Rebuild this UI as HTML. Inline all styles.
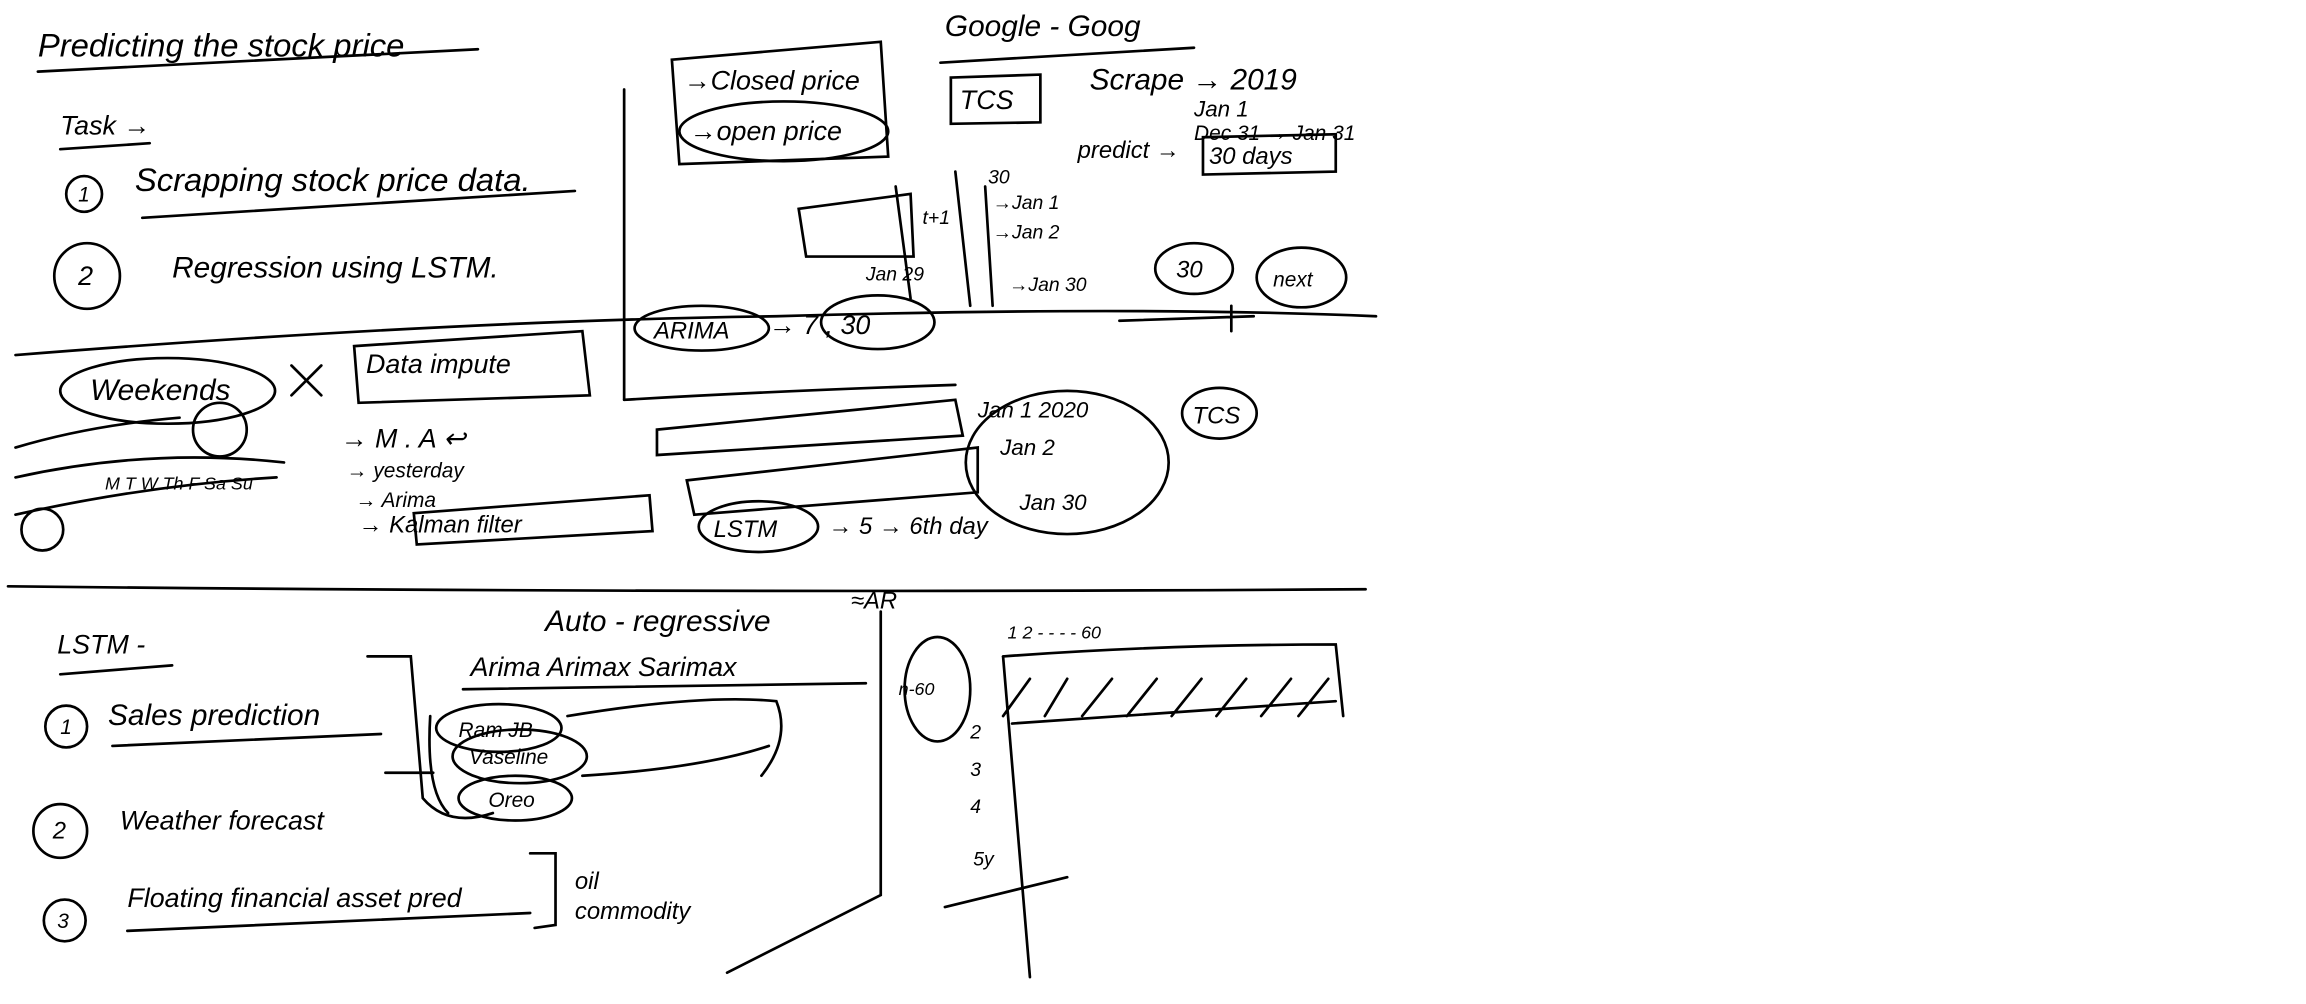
<!DOCTYPE html>
<html><head><meta charset="utf-8"><style>
html,body{margin:0;padding:0;background:#fff;}
svg{display:block;}
text{font-family:"Liberation Sans",sans-serif;font-style:italic;fill:#000;}
</style></head><body>
<svg width="2306" height="1004" viewBox="0 0 1545 673" xmlns="http://www.w3.org/2000/svg">
<g fill="none" stroke="#000" stroke-width="1.8" stroke-linecap="round">
<path d="M10 238 Q300 215 520 212 Q760 205 922 212"/>
<path d="M418 60 L418 268"/>
<path d="M418 268 Q520 262 640 258"/>
<path d="M5 393 Q450 398 915 395"/>
<path d="M590 410 L590 600 L487 652"/>
<path d="M25 48 L320 33"/>
<path d="M40 100 L100 96"/>
<path d="M95 146 L385 128"/>
<path d="M630 42 L800 32"/>
<path d="M40 452 L115 446"/>
<path d="M75 500 L255 492"/>
<path d="M85 624 L355 612"/>
<path d="M310 462 L580 458"/>
<path d="M450 40 L590 28 L595 105 L455 110 Z"/>
<path d="M637 52 L697 50 L697 82 L637 83 Z"/>
<path d="M806 92 L895 90 L895 115 L806 117 Z"/>
<path d="M237 232 L390 222 L395 265 L240 270 Z"/>
<path d="M277 344 L435 332 L437 356 L279 365 Z"/>
<path d="M355 572 L372 572 L372 620 L358 622"/>
<ellipse cx="525" cy="88" rx="70" ry="20"/>
<ellipse cx="470" cy="220" rx="45" ry="15"/>
<ellipse cx="588" cy="216" rx="38" ry="18"/>
<ellipse cx="800" cy="180" rx="26" ry="17"/>
<ellipse cx="872" cy="186" rx="30" ry="20"/>
<ellipse cx="112" cy="262" rx="72" ry="22"/>
<ellipse cx="817" cy="277" rx="25" ry="17"/>
<ellipse cx="715" cy="310" rx="68" ry="48"/>
<ellipse cx="508" cy="353" rx="40" ry="17"/>
<ellipse cx="628" cy="462" rx="22" ry="35"/>
<ellipse cx="334" cy="488" rx="42" ry="16"/>
<ellipse cx="348" cy="507" rx="45" ry="18"/>
<ellipse cx="345" cy="535" rx="38" ry="15"/>
<circle cx="56" cy="130" r="12"/>
<circle cx="58" cy="185" r="22"/>
<circle cx="44" cy="487" r="14"/>
<circle cx="40" cy="557" r="18"/>
<circle cx="43" cy="617" r="14"/>
<circle cx="28" cy="355" r="14"/>
<circle cx="147" cy="288" r="18"/>
<path d="M535 140 L610 130 L612 172 L540 172 Z"/>
<path d="M600 125 L610 200 M640 115 L650 205 M660 125 L665 205"/>
<path d="M440 288 L640 268 L645 292 L440 305 Z"/>
<path d="M460 322 L655 300 L655 330 L465 345 Z"/>
<path d="M10 300 Q60 285 120 280 M10 320 Q100 300 190 310 M10 345 Q100 325 185 320"/>
<path d="M672 440 Q780 432 895 432 L900 480 M678 485 L895 470 M690 455 L672 480 M715 455 L700 480 M745 455 L725 480 M775 455 L755 480 M805 455 L785 480 M835 455 L815 480 M865 455 L845 480 M890 455 L870 480"/>
<path d="M672 440 L690 655"/>
<path d="M633 608 L715 588"/>
<path d="M750 215 L840 212 M825 205 L825 222"/>
<path d="M246 440 L275 440 L283 535 Q300 555 330 545 M288 480 Q285 530 300 545"/>
<path d="M380 480 Q470 465 520 470 Q530 495 510 520 M390 520 Q470 515 515 500"/>
<path d="M290 518 L258 518"/>
<path d="M195 245 L215 265 M215 245 L195 265"/>
</g>
<g font-size="18">
<text x="25" y="38" font-size="22">Predicting the stock price</text>
<text x="40" y="90" font-size="18">Task →</text>
<text x="52" y="135" font-size="14">1</text>
<text x="90" y="128" font-size="22">Scrapping stock price data.</text>
<text x="52" y="191">2</text>
<text x="115" y="186" font-size="20">Regression using LSTM.</text>
<text x="458" y="60">→Closed price</text>
<text x="462" y="94">→open price</text>
<text x="633" y="24" font-size="20">Google - Goog</text>
<text x="643" y="73">TCS</text>
<text x="730" y="60" font-size="20">Scrape → 2019</text>
<text x="800" y="78" font-size="15">Jan 1</text>
<text x="800" y="94" font-size="14">Dec 31 → Jan 31</text>
<text x="722" y="106" font-size="16">predict →</text>
<text x="810" y="110" font-size="16">30 days</text>
<text x="662" y="123" font-size="13">30</text>
<text x="665" y="140" font-size="13">→Jan 1</text>
<text x="665" y="160" font-size="13">→Jan 2</text>
<text x="580" y="188" font-size="13">Jan 29</text>
<text x="676" y="195" font-size="13">→Jan 30</text>
<text x="618" y="150" font-size="13">t+1</text>
<text x="788" y="186" font-size="16">30</text>
<text x="853" y="192" font-size="14">next</text>
<text x="438" y="227" font-size="16">ARIMA</text>
<text x="515" y="224">→ 7 , 30</text>
<text x="60" y="268" font-size="20">Weekends</text>
<text x="245" y="250">Data impute</text>
<text x="70" y="328" font-size="12">M T W Th F Sa Su</text>
<text x="228" y="300">→ M . A ↩</text>
<text x="232" y="320" font-size="14">→ yesterday</text>
<text x="238" y="340" font-size="14">→ Arima</text>
<text x="240" y="357" font-size="16">→ Kalman filter</text>
<text x="655" y="280" font-size="15">Jan 1 2020</text>
<text x="670" y="305" font-size="15">Jan 2</text>
<text x="683" y="342" font-size="15">Jan 30</text>
<text x="799" y="284" font-size="16">TCS</text>
<text x="478" y="360" font-size="16">LSTM</text>
<text x="555" y="358" font-size="16">→ 5 → 6th day</text>
<text x="365" y="423" font-size="20">Auto - regressive</text>
<text x="570" y="408" font-size="16">≈AR</text>
<text x="315" y="453" font-size="18">Arima  Arimax  Sarimax</text>
<text x="38" y="438">LSTM -</text>
<text x="40" y="492" font-size="14">1</text>
<text x="72" y="486" font-size="20">Sales prediction</text>
<text x="35" y="562" font-size="16">2</text>
<text x="80" y="556" font-size="18">Weather forecast</text>
<text x="38" y="622" font-size="14">3</text>
<text x="85" y="608" font-size="18">Floating financial asset pred</text>
<text x="385" y="596" font-size="16">oil</text>
<text x="385" y="616" font-size="16">commodity</text>
<text x="307" y="494" font-size="14">Ram JB</text>
<text x="314" y="512" font-size="14">Vaseline</text>
<text x="327" y="541" font-size="14">Oreo</text>
<text x="602" y="466" font-size="12">n-60</text>
<text x="675" y="428" font-size="12">1   2   -  -  -     -    60</text>
<text x="650" y="495" font-size="13">2</text>
<text x="650" y="520" font-size="13">3</text>
<text x="650" y="545" font-size="13">4</text>
<text x="652" y="580" font-size="13">5y</text>
</g>
</svg>
</body></html>
